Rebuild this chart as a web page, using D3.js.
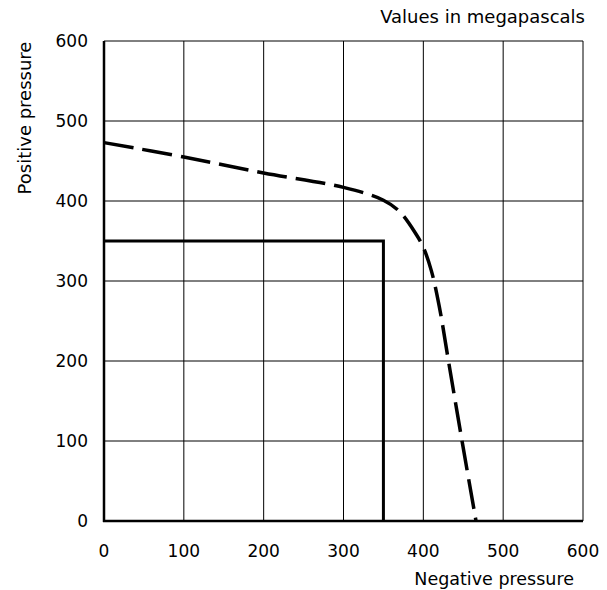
<!DOCTYPE html>
<html>
<head>
<meta charset="utf-8">
<script src="https://cdn.jsdelivr.net/npm/d3@7"></script>
<style>
  body { margin: 0; background: #fff; }
  text { font-family: "DejaVu Sans", sans-serif; fill: #000; }
</style>
</head>
<body>
<div id="chart"></div>
<script>
// data
const xTicks = [0, 100, 200, 300, 400, 500, 600]
const yTicks = [0, 100, 200, 300, 400, 500, 600]

const solidNeg = [0, 350, 350]
const solidPos = [350, 350, 0]

const dashedNeg = [0, 100, 200, 300, 350, 370, 390, 400, 410, 420, 432, 449, 466]
const dashedPos = [473, 455, 435, 417, 401, 387, 360, 342, 313, 268, 197, 97, 0]

// dimensions
let dimensions = {
  width: 607,
  height: 590,
  margin: { top: 41, right: 24, bottom: 69, left: 104 },
}
dimensions.boundedWidth = dimensions.width - dimensions.margin.left - dimensions.margin.right
dimensions.boundedHeight = dimensions.height - dimensions.margin.top - dimensions.margin.bottom

const wrapper = d3.select("#chart")
  .append("svg")
    .attr("width", dimensions.width)
    .attr("height", dimensions.height)

const bounds = wrapper.append("g")
    .attr("transform", `translate(${dimensions.margin.left},${dimensions.margin.top})`)

// scales
const xScale = d3.scaleLinear()
  .domain([0, 600])
  .range([0, dimensions.boundedWidth])

const yScale = d3.scaleLinear()
  .domain([0, 600])
  .range([dimensions.boundedHeight, 0])

// grid
bounds.append("g")
  .selectAll("line")
  .data(xTicks)
  .join("line")
    .attr("x1", d => xScale(d))
    .attr("x2", d => xScale(d))
    .attr("y1", 0)
    .attr("y2", dimensions.boundedHeight)
    .attr("stroke", "#000")
    .attr("stroke-width", 1)

bounds.append("g")
  .selectAll("line")
  .data(yTicks)
  .join("line")
    .attr("x1", 0)
    .attr("x2", dimensions.boundedWidth)
    .attr("y1", d => yScale(d))
    .attr("y2", d => yScale(d))
    .attr("stroke", "#000")
    .attr("stroke-width", 1)

// heavier axes (left + bottom)
bounds.append("line")
  .attr("x1", 0).attr("x2", 0)
  .attr("y1", 0).attr("y2", dimensions.boundedHeight + 1)
  .attr("stroke", "#000").attr("stroke-width", 2.5)
bounds.append("line")
  .attr("x1", -1).attr("x2", dimensions.boundedWidth)
  .attr("y1", dimensions.boundedHeight).attr("y2", dimensions.boundedHeight)
  .attr("stroke", "#000").attr("stroke-width", 2.5)

// tick labels
bounds.append("g")
  .selectAll("text")
  .data(xTicks)
  .join("text")
    .attr("x", d => xScale(d))
    .attr("y", dimensions.boundedHeight + 36)
    .attr("text-anchor", "middle")
    .style("font-size", "17px")
    .text(d => d)

bounds.append("g")
  .selectAll("text")
  .data(yTicks)
  .join("text")
    .attr("x", -16)
    .attr("y", d => yScale(d) + 6)
    .attr("text-anchor", "end")
    .style("font-size", "17px")
    .text(d => d)

// lines
const lineGen = d3.line()
  .x(d => xScale(d[0]))
  .y(d => yScale(d[1]))

bounds.append("path")
  .datum(d3.zip(solidNeg, solidPos))
  .attr("d", lineGen)
  .attr("fill", "none")
  .attr("stroke", "#000")
  .attr("stroke-width", 3)

bounds.append("path")
  .datum(d3.zip(dashedNeg, dashedPos))
  .attr("d", lineGen.curve(d3.curveCatmullRom))
  .attr("fill", "none")
  .attr("stroke", "#000")
  .attr("stroke-width", 3.5)
  .attr("stroke-dasharray", "30,9")

// labels
wrapper.append("text")
  .attr("x", 585)
  .attr("y", 23)
  .attr("text-anchor", "end")
  .style("font-size", "18px")
  .text("Values in megapascals")

wrapper.append("text")
  .attr("x", 574)
  .attr("y", 585)
  .attr("text-anchor", "end")
  .style("font-size", "17.5px")
  .text("Negative pressure")

wrapper.append("text")
  .attr("transform", "translate(31,118) rotate(-90)")
  .attr("text-anchor", "middle")
  .style("font-size", "18px")
  .text("Positive pressure")
</script>
</body>
</html>
